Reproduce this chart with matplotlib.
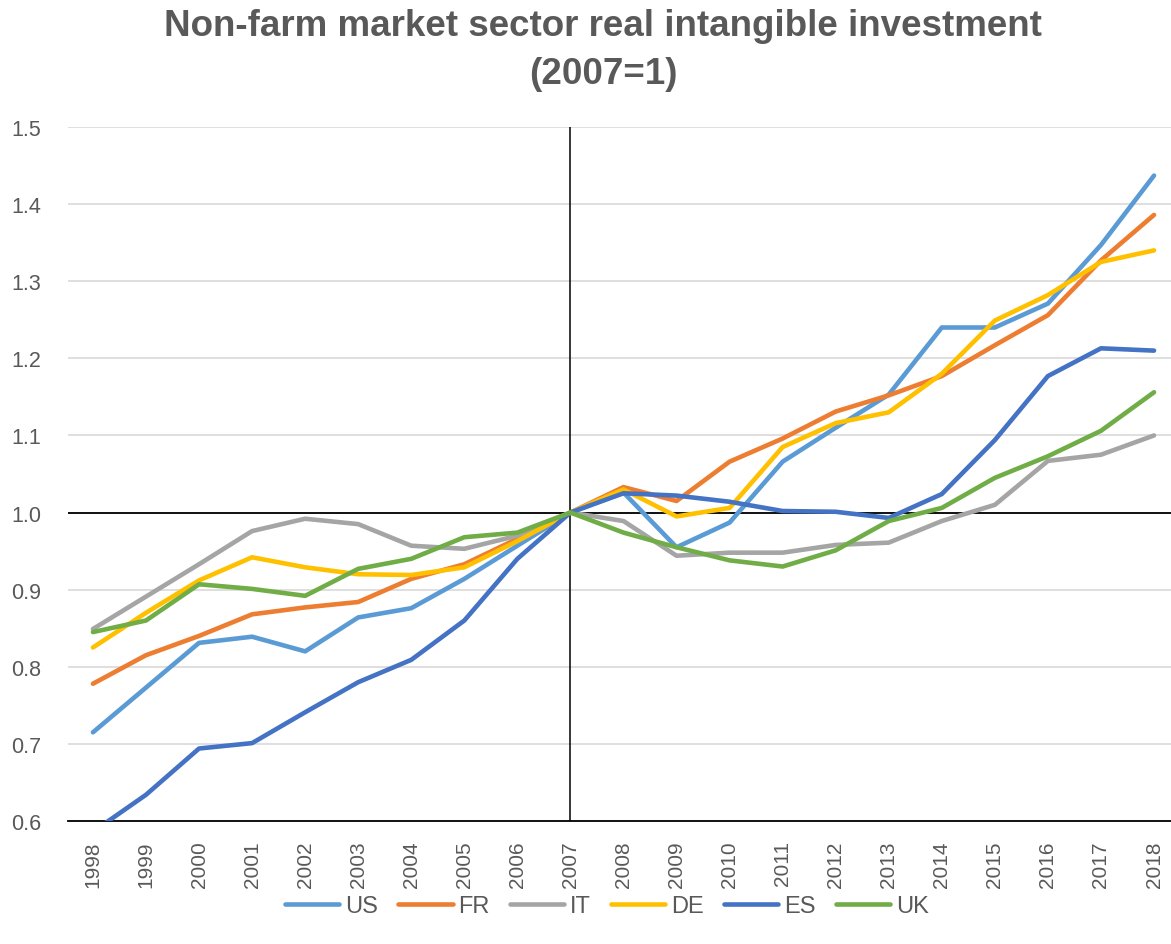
import matplotlib
matplotlib.use("Agg")
import matplotlib.pyplot as plt

years = [str(y) for y in range(1998, 2019)]
US = [0.715, 0.773, 0.831, 0.839, 0.820, 0.864, 0.876, 0.914, 0.957, 1.0, 1.026, 0.955, 0.987, 1.066, 1.110, 1.153, 1.240, 1.240, 1.271, 1.347, 1.437]
FR = [0.778, 0.815, 0.840, 0.868, 0.877, 0.884, 0.914, 0.933, 0.966, 1.0, 1.033, 1.015, 1.066, 1.096, 1.131, 1.152, 1.177, 1.217, 1.256, 1.327, 1.386]
IT = [0.849, 0.891, 0.933, 0.976, 0.992, 0.985, 0.957, 0.953, 0.970, 1.0, 0.989, 0.944, 0.948, 0.948, 0.958, 0.961, 0.989, 1.010, 1.067, 1.075, 1.100]
DE = [0.825, 0.870, 0.912, 0.942, 0.929, 0.920, 0.919, 0.929, 0.963, 1.0, 1.030, 0.995, 1.006, 1.085, 1.116, 1.130, 1.180, 1.249, 1.282, 1.325, 1.340]
ES = [0.586, 0.634, 0.694, 0.701, 0.741, 0.780, 0.809, 0.860, 0.940, 1.0, 1.025, 1.022, 1.014, 1.002, 1.001, 0.993, 1.024, 1.094, 1.177, 1.213, 1.210]
UK = [0.845, 0.860, 0.907, 0.901, 0.892, 0.927, 0.940, 0.968, 0.974, 1.0, 0.974, 0.955, 0.938, 0.930, 0.951, 0.989, 1.006, 1.045, 1.073, 1.106, 1.156]

series_names = ["US", "FR", "IT", "DE", "ES", "UK"]
series_vals = [US, FR, IT, DE, ES, UK]
colors = ["#5B9BD5", "#ED7D31", "#A5A5A5", "#FFC000", "#4472C4", "#70AD47"]
yticks = [0.6, 0.7, 0.8, 0.9, 1.0, 1.1, 1.2, 1.3, 1.4, 1.5]

font = "Liberation Sans"
txt = "#595959"

W, H = 1171, 945
fig = plt.figure(figsize=(W / 100, H / 100), dpi=100)
left_px, right_px = 68, 1171
bot_px, top_px = 822, 128
ax = fig.add_axes([left_px / W, (H - bot_px) / H, (right_px - left_px) / W, (bot_px - top_px) / H])

x = list(range(len(years)))
for name, vals, c in zip(series_names, series_vals, colors):
    ax.plot(x, vals, color=c, lw=3.3, label=name, solid_capstyle="round", solid_joinstyle="round", zorder=3)

ax.set_ylim(0.6, 1.5)
ax.set_xlim(-0.47, 20.32)
ax.set_yticks(yticks)
ax.set_yticklabels([f"{v:.1f}" for v in yticks], fontsize=15.5, color=txt, family=font)
ax.set_xticks(x)
ax.set_xticklabels(years, rotation=90, fontsize=15, color=txt, family=font)
ax.tick_params(axis="both", length=0)
ax.tick_params(axis="y", pad=19)
ax.tick_params(axis="x", pad=14)
ax.grid(axis="y", color="#D9D9D9", lw=1.2, zorder=0)
for s in ["top", "right", "left"]:
    ax.spines[s].set_visible(False)
ax.spines["bottom"].set_color("black")
ax.spines["bottom"].set_linewidth(1.3)
ax.axhline(1.0, color="black", lw=1.3, zorder=2)
ax.axvline(years.index("2007"), color="black", lw=1.1, zorder=2)

fig.text(603 / W, 1 - 26 / H, "Non-farm market sector real intangible investment", ha="center", va="center",
         fontsize=26.5, fontweight="bold", color=txt, family=font)
fig.text(603 / W, 1 - 74 / H, "(2007=1)", ha="center", va="center",
         fontsize=26.5, fontweight="bold", color=txt, family=font)

leg = fig.legend(loc="center", bbox_to_anchor=(607 / W, 1 - 907 / H), ncol=6, frameon=False,
                 handlelength=2.3, handletextpad=0.25, columnspacing=0.85,
                 prop={"family": font, "size": 17})
for t in leg.get_texts():
    t.set_color(txt)

fig.savefig("out.png", dpi=100)
